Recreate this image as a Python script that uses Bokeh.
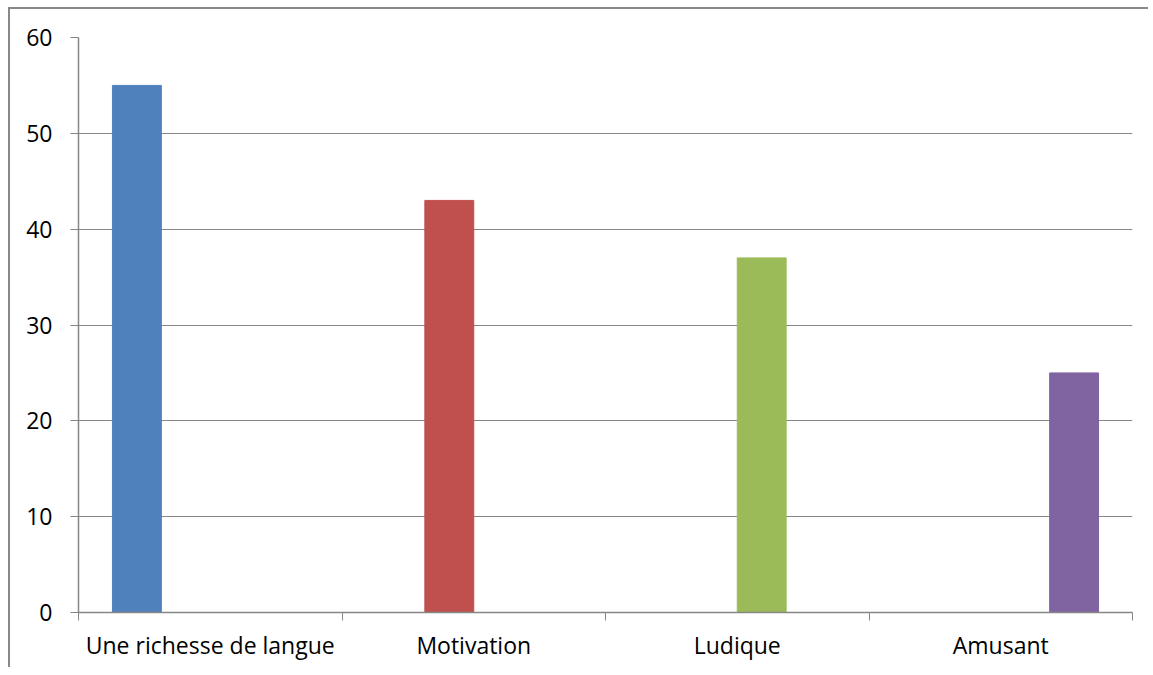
from bokeh.plotting import figure
from bokeh.models import Range1d, FixedTicker, ColumnDataSource
from bokeh.embed import file_html
from bokeh.resources import INLINE

categories = ["Une richesse de langue", "Motivation", "Ludique", "Amusant"]
values = [55, 43, 37, 25]
colors = ["#4F81BD", "#C0504D", "#9BBB59", "#8064A2"]
y_ticks = [0, 10, 20, 30, 40, 50, 60]

n = len(categories)
# clustered layout: each category holds one bar in its own series slot
bar_width = 0.1856
gap = (1 - n * bar_width) / 2
offsets = [gap + bar_width * (i + 0.5) - 0.5 for i in range(n)]
centers = [i + 0.5 for i in range(n)]
xs = [c + o for c, o in zip(centers, offsets)]
src = ColumnDataSource(dict(x=xs, top=values, color=colors, cat=categories))

FONT = "Open Sans"
GRAY = "#868686"

p = figure(width=1140, height=660, x_range=Range1d(0, n), y_range=Range1d(0, 60),
           output_backend="svg", toolbar_location=None,
           min_border_left=68, min_border_top=28, min_border_right=18, min_border_bottom=57)
p.styles = {"border-top": "2px solid #888888", "border-left": "2px solid #888888",
            "margin-left": "8px", "margin-top": "7px"}
p.outline_line_color = None
p.background_fill_color = "white"
p.border_fill_color = "white"

p.vbar(x="x", top="top", width=bar_width, bottom=0, color="color", source=src)

# x axis
xa = p.xaxis[0]
xa.ticker = FixedTicker(ticks=centers, minor_ticks=list(range(n + 1)))
xa.major_label_overrides = {c: cat for c, cat in zip(centers, categories)}
xa.major_tick_out = 0
xa.major_tick_in = 0
xa.minor_tick_out = 8
xa.minor_tick_in = 0
xa.minor_tick_line_color = GRAY
xa.axis_line_color = GRAY
xa.axis_line_width = 1.5
xa.major_label_text_font = FONT
xa.major_label_text_font_size = "23px"
xa.major_label_text_color = "black"
xa.major_label_standoff = 8

# y axis
ya = p.yaxis[0]
ya.ticker = FixedTicker(ticks=y_ticks)
ya.major_tick_out = 8
ya.major_tick_in = 0
ya.major_tick_line_color = GRAY
ya.minor_tick_line_color = None
ya.axis_line_color = GRAY
ya.axis_line_width = 1.5
ya.major_label_text_font = FONT
ya.major_label_text_font_size = "23px"
ya.major_label_text_color = "black"
ya.major_label_standoff = 18

p.xgrid.grid_line_color = None
p.ygrid.grid_line_color = GRAY
p.ygrid.grid_line_width = 1.2
p.ygrid.ticker = FixedTicker(ticks=y_ticks)

open("out.html", "w").write(file_html(p, INLINE))
